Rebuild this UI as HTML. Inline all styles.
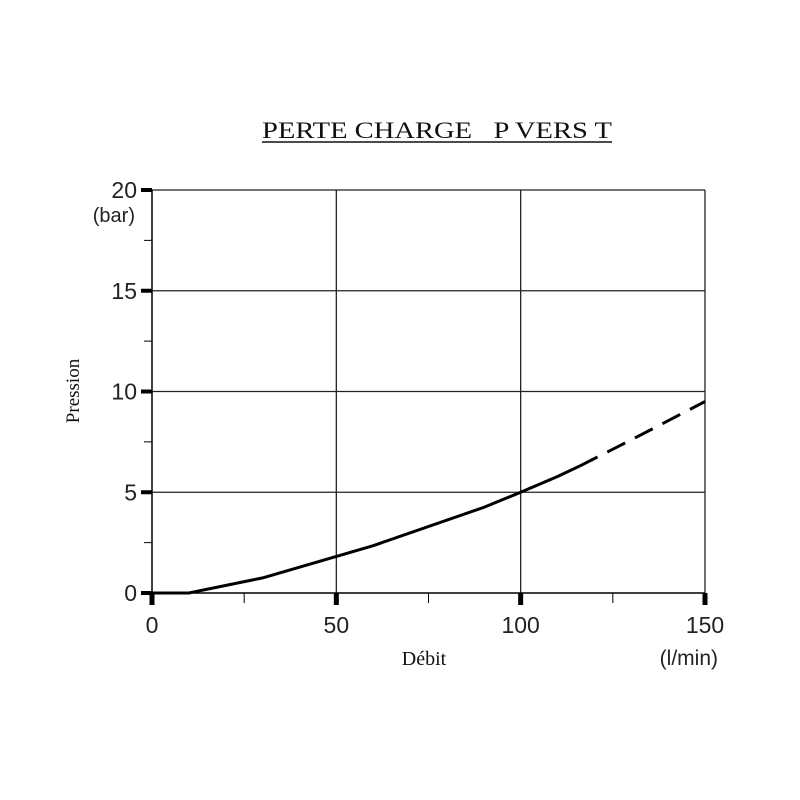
<!DOCTYPE html>
<html><head><meta charset="utf-8"><style>body{margin:0;background:#fff}svg{display:block}</style></head>
<body>
<svg id="chart" width="800" height="800" viewBox="0 0 800 800" xmlns="http://www.w3.org/2000/svg">
<text x="262" y="138" font-family="Liberation Serif, serif" font-size="23" textLength="350" lengthAdjust="spacingAndGlyphs" fill="#111" style="white-space:pre" xml:space="preserve">PERTE CHARGE   P VERS T</text>
<line x1="262" y1="142" x2="612" y2="142" stroke="#111" stroke-width="1.5"/>
<g id="grid"></g><g id="axes"></g><g id="series"></g>
<text transform="translate(79,391) rotate(-90)" text-anchor="middle" font-family="Liberation Serif, serif" font-size="19" fill="#111">Pression</text>
<text x="135" y="222" text-anchor="end" font-family="Liberation Sans, sans-serif" font-size="20" fill="#222">(bar)</text>
<text x="424" y="665" text-anchor="middle" font-family="Liberation Serif, serif" font-size="20" fill="#111">Débit</text>
<text x="718" y="665" text-anchor="end" font-family="Liberation Sans, sans-serif" font-size="21" fill="#222">(l/min)</text>
</svg>
<script>
const xTicks=[0,50,100,150];
const yTicks=[0,5,10,15,20];
const xMinor=[25,75,125];
const yMinor=[2.5,7.5,12.5,17.5];
const flowSolid=[0,10,30,60,90,100,110,116];
const pressSolid=[0,0,0.75,2.35,4.25,5,5.78,6.3];
const flowDashed=[116,130,150];
const pressDashed=[6.3,7.6,9.5];
const NS='http://www.w3.org/2000/svg';
const X=v=>152+v*(553/150), Y=v=>593-v*(403/20);
function mk(t,a,p){const e=document.createElementNS(NS,t);for(const k in a)e.setAttribute(k,a[k]);p.appendChild(e);return e;}
const g=document.getElementById('grid'),ax=document.getElementById('axes'),s=document.getElementById('series');
yTicks.forEach(v=>{if(v>0){const l=mk('line',{x1:152,x2:705,y1:Y(v),y2:Y(v),stroke:'#222','stroke-width':1.3},g);

}
const t=mk('rect',{x:141,y:Y(v)-2,width:11,height:4,fill:'#000'},ax);


const tx=mk('text',{x:137,y:Y(v)+8,'text-anchor':'end','font-family':'Liberation Sans, sans-serif','font-size':23,fill:'#222'},ax);tx.textContent=v;

});
xTicks.forEach(v=>{if(v>0){const l=mk('line',{x1:X(v),x2:X(v),y1:190,y2:593,stroke:'#222','stroke-width':1.3},g);

}
const t=mk('rect',{x:X(v)-2.5,y:593,width:5,height:12,fill:'#000'},ax);


const tx=mk('text',{x:X(v),y:633,'text-anchor':'middle','font-family':'Liberation Sans, sans-serif','font-size':23,fill:'#222'},ax);tx.textContent=v;

});
yMinor.forEach(v=>{const l=mk('line',{x1:144,x2:152,y1:Y(v),y2:Y(v),stroke:'#000','stroke-width':1},ax);

});
xMinor.forEach(v=>{const l=mk('line',{x1:X(v),x2:X(v),y1:593,y2:603,stroke:'#000','stroke-width':1},ax);

});
const a1=mk('line',{x1:152,x2:152,y1:190,y2:593,stroke:'#000','stroke-width':1.5},ax);


const a2=mk('line',{x1:152,x2:705,y1:593,y2:593,stroke:'#000','stroke-width':1.5},ax);


const p1=mk('polyline',{points:flowSolid.map((f,i)=>X(f)+','+Y(pressSolid[i])).join(' '),fill:'none',stroke:'#000','stroke-width':3},s);


const p2=mk('polyline',{points:flowDashed.map((f,i)=>X(f)+','+Y(pressDashed[i])).join(' '),fill:'none',stroke:'#000','stroke-width':3,'stroke-dasharray':'20 11'},s);


</script>
</body></html>
